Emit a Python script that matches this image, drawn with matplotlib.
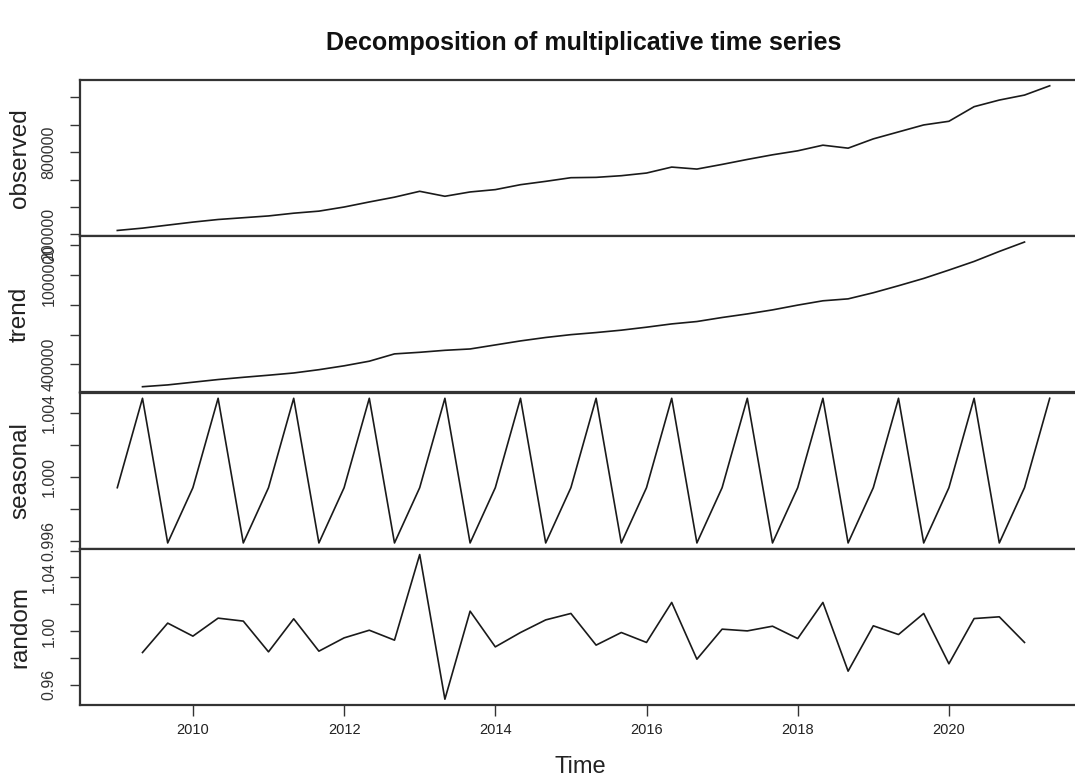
import numpy as np
import matplotlib
matplotlib.use("Agg")
import matplotlib.pyplot as plt

# ---------------- data ----------------
start_year = 2009
frequency = 3  # observations per year

observed = [229000, 246000, 268000, 290000, 309000, 322000, 335000, 355000,
            370000, 400000, 437000, 472000, 514800, 478500, 510000, 527000,
            563000, 587400, 614000, 616500, 628600, 648000, 691500, 677000,
            711000, 747200, 781100, 810200, 851300, 829500, 897300, 948200,
            999000, 1025700, 1132200, 1180600, 1216900, 1284700]

trend = [np.nan,
         249900, 262000, 280000, 298000, 313000, 327000, 342000, 364000,
         390000, 421000, 470000, 480700, 494000, 503000, 530000, 557000,
         580000, 599000, 613000, 629000, 649000, 671000, 687000, 714000,
         738000, 765000, 797000, 826000, 839000, 880000, 927000, 976000,
         1032000, 1090000, 1157000, 1220000,
         np.nan]

seasonal = [0.99931, 1.00489, 0.99586, 0.99931, 1.00489, 0.99586,
            0.99931, 1.00489, 0.99586, 0.99931, 1.00489, 0.99586,
            0.99931, 1.00489, 0.99586, 0.99931, 1.00489, 0.99586,
            0.99931, 1.00489, 0.99586, 0.99931, 1.00489, 0.99586,
            0.99931, 1.00489, 0.99586, 0.99931, 1.00489, 0.99586,
            0.99931, 1.00489, 0.99586, 0.99931, 1.00489, 0.99586,
            0.99931, 1.00489]

random = [np.nan,
          0.9841, 1.0060, 0.9963, 1.0097, 1.0075, 0.9846, 1.0092, 0.9851,
          0.9950, 1.0007, 0.9933, 1.0571, 0.9493, 1.0149, 0.9883, 0.9990,
          1.0084, 1.0132, 0.9896, 0.9990, 0.9916, 1.0214, 0.9791, 1.0015,
          1.0002, 1.0037, 0.9945, 1.0214, 0.9702, 1.0040, 0.9975, 1.0132,
          0.9757, 1.0094, 1.0107, 0.9916,
          np.nan]

panel_names = ["observed", "trend", "seasonal", "random"]

obs_ticks = [200000, 400000, 600000, 800000, 1000000, 1200000]
obs_labels = ["200000", "", "", "800000", "", ""]
trend_ticks = [400000, 600000, 800000, 1000000, 1200000]
trend_labels = ["400000", "", "", "1000000", ""]
seas_ticks = [0.996, 0.998, 1.000, 1.002, 1.004]
seas_labels = ["0.996", "", "1.000", "", "1.004"]
rand_ticks = [0.96, 0.98, 1.00, 1.02, 1.04, 1.06]
rand_labels = ["0.96", "", "1.00", "", "1.04", ""]

x_ticks = [2010, 2012, 2014, 2016, 2018, 2020]
x_labels = ["2010", "2012", "2014", "2016", "2018", "2020"]

title = "Decomposition of multiplicative time series"
x_title = "Time"

# ---------------- drawing ----------------
W, H = 1075, 781
fig = plt.figure(figsize=(W / 100, H / 100), dpi=100)
fig.patch.set_facecolor("white")

time = start_year + np.arange(len(observed)) / frequency
span = time[-1] - time[0]
xlim = (time[0] - 0.04 * span, time[-1] + 0.04 * span)

left_px, right_px = 80, 1087
top_px, bottom_px = 80, 705
panel_h = (bottom_px - top_px) / 4.0

series = [observed, trend, seasonal, random]
ticks = [obs_ticks, trend_ticks, seas_ticks, rand_ticks]
labels = [obs_labels, trend_labels, seas_labels, rand_labels]

frame_col = "#333333"
font = ["Liberation Sans", "DejaVu Sans"]

for i, (name, ys, tk, lb) in enumerate(zip(panel_names, series, ticks, labels)):
    y0 = top_px + i * panel_h
    ax = fig.add_axes([left_px / W, 1 - (y0 + panel_h) / H,
                       (right_px - left_px) / W, panel_h / H])
    ys = np.asarray(ys, dtype=float)
    ax.plot(time, ys, color="#1a1a1a", lw=1.2)
    ax.set_xlim(*xlim)
    lo, hi = np.nanmin(ys), np.nanmax(ys)
    r = hi - lo
    ax.set_ylim(lo - 0.04 * r, hi + 0.04 * r)
    for sp in ax.spines.values():
        sp.set_linewidth(1.6)
        sp.set_color(frame_col)
    ax.set_yticks(tk)
    ax.set_yticklabels(lb, rotation=90, va="center", ha="right",
                       fontsize=11.5, family=font, color="#333333")
    ax.tick_params(axis="y", direction="out", length=7, width=1.0,
                   color=frame_col, pad=10)
    if i < 3:
        ax.set_xticks([])
    else:
        ax.set_xticks(x_ticks)
        ax.set_xticklabels(x_labels, fontsize=10.5, family=font,
                           color="#222222")
        ax.tick_params(axis="x", direction="out", length=8, width=1.0,
                       color=frame_col, pad=5)
    fig.text(20 / W, 1 - (y0 + panel_h / 2) / H, name, rotation=90,
             ha="center", va="center", fontsize=17.5, family=font,
             color="#222222")

fig.text(584 / W, 1 - 43 / H, title, ha="center", va="center",
         fontsize=18, fontweight="bold", family=font, color="#111111")
fig.text(580 / W, 1 - 767 / H, x_title, ha="center", va="center",
         fontsize=17, family=font, color="#222222")

fig.savefig("out.png", dpi=100, facecolor="white")
